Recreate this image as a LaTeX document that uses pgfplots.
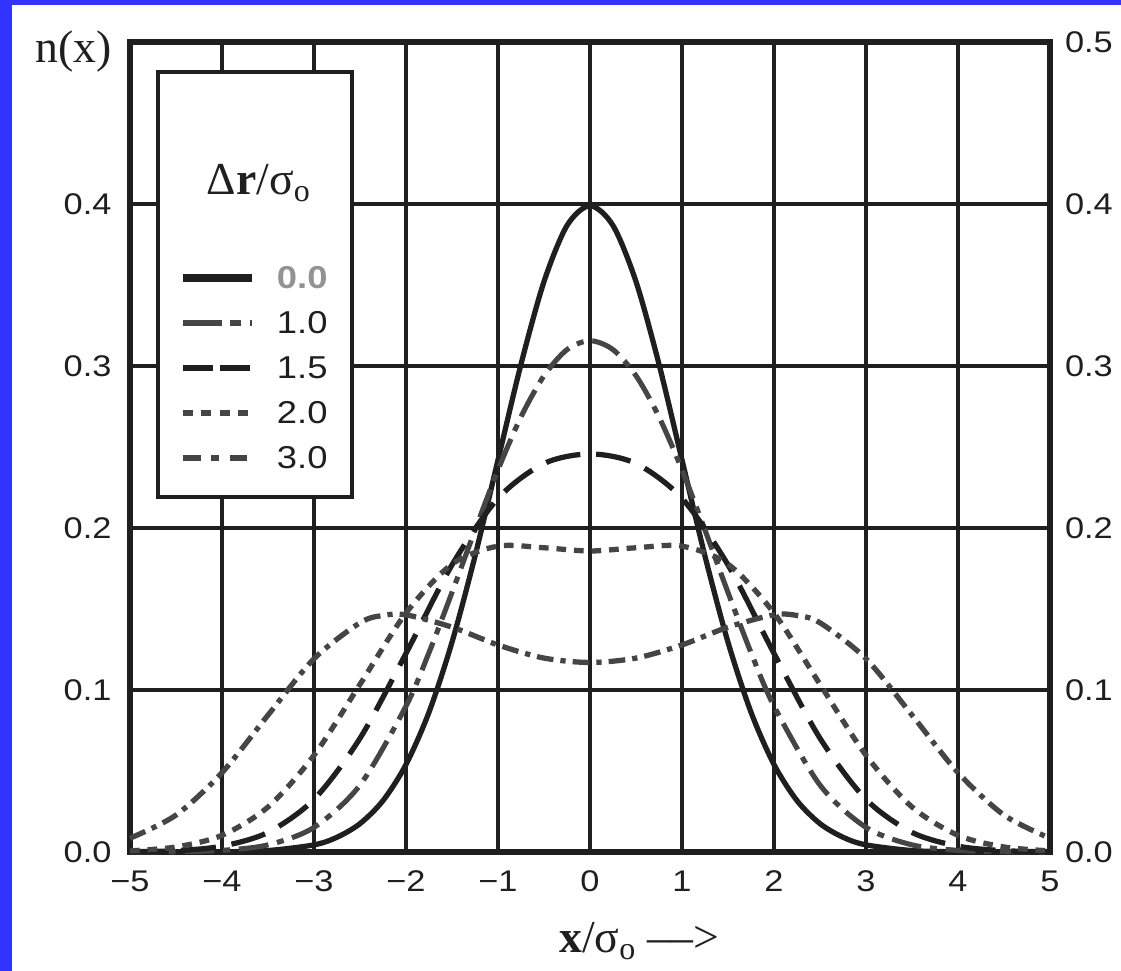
\documentclass[border=0pt]{standalone}
\usepackage{fontspec}
\setmainfont{Liberation Serif}
\newfontfamily\tickfont[FakeStretch=1.15]{Liberation Sans}
\usepackage{pgfplots}
\pgfplotsset{compat=1.18}

\definecolor{slideblue}{RGB}{51,51,255}
\definecolor{ink}{gray}{0.12}
\definecolor{curve}{gray}{0.27}

\tikzset{
  r00/.style={ink, line width=3pt},
  r10/.style={curve, line width=2.9pt, dash pattern=on 17pt off 5pt on 4pt off 5pt},
  r15/.style={ink, line width=3pt, dash pattern=on 20pt off 9pt},
  r20/.style={curve, line width=3pt, dash pattern=on 5.5pt off 4.5pt},
  r30/.style={curve, line width=3pt, dash pattern=on 9.5pt off 4pt on 3pt off 4pt},
}

\begin{document}
\begin{tikzpicture}
\fill[slideblue] (0,0) rectangle (22.42,19.42);
\fill[white] (0.24,0) rectangle (22.42,19.32);

\begin{axis}[
  at={(2.60cm,2.38cm)}, anchor=south west,
  scale only axis, width=18.4cm, height=16.2cm,
  xmin=-5, xmax=5, ymin=0, ymax=0.5,
  xtick={-5,-4,-3,-2,-1,0,1,2,3,4,5},
  xticklabels={−5,−4,−3,−2,−1,0,1,2,3,4,5},
  ytick={0,0.1,0.2,0.3,0.4,0.5},
  yticklabels={0.0,0.1,0.2,0.3,0.4,{}},
  tick label style={font=\tickfont\fontsize{17}{20}\selectfont, text=ink},
  xticklabel style={yshift=-7pt},
  yticklabel style={xshift=-7pt},
  major tick length=0pt,
  grid=major,
  grid style={line width=1.8pt, ink},
  axis line style={line width=3.4pt, ink},
  clip=false,
]
% dr/sigma = 0.0
\addplot[r00, smooth] coordinates {
  (-5,0) (-4.5,0.00002) (-4,0.0001) (-3.5,0.0009) (-3,0.0044) (-2.75,0.0091)
  (-2.5,0.0175) (-2.25,0.0317) (-2,0.0540) (-1.75,0.0863) (-1.5,0.1295)
  (-1.25,0.1826) (-1,0.2420) (-0.75,0.3011) (-0.5,0.3521) (-0.25,0.3867)
  (0,0.3989) (0.25,0.3867) (0.5,0.3521) (0.75,0.3011) (1,0.2420)
  (1.25,0.1826) (1.5,0.1295) (1.75,0.0863) (2,0.0540) (2.25,0.0317)
  (2.5,0.0175) (2.75,0.0091) (3,0.0044) (3.5,0.0009) (4,0.0001)
  (4.5,0.00002) (5,0)
};
% dr/sigma = 1.0
\addplot[r10, smooth] coordinates {
  (-5,0) (-4.5,0.0002) (-4,0.0010) (-3.5,0.0044) (-3,0.0152) (-2.5,0.0413)
  (-2,0.0901) (-1.75,0.1231) (-1.5,0.1602) (-1.25,0.1987) (-1,0.2359)
  (-0.75,0.2686) (-0.5,0.2940) (-0.25,0.3101) (0,0.3156) (0.25,0.3101)
  (0.5,0.2940) (0.75,0.2686) (1,0.2359) (1.25,0.1987) (1.5,0.1602)
  (1.75,0.1231) (2,0.0901) (2.5,0.0413) (3,0.0152) (3.5,0.0044)
  (4,0.0010) (4.5,0.0002) (5,0)
};
% dr/sigma = 1.5
\addplot[r15, smooth] coordinates {
  (-5,0.0002) (-4.5,0.0008) (-4,0.0036) (-3.5,0.0121) (-3,0.0325) (-2.5,0.0702)
  (-2,0.1226) (-1.5,0.1772) (-1,0.2183) (-0.5,0.2398) (0,0.2457)
  (0.5,0.2398) (1,0.2183) (1.5,0.1772) (2,0.1226) (2.5,0.0702)
  (3,0.0325) (3.5,0.0121) (4,0.0036) (4.5,0.0008) (5,0.0002)
};
% dr/sigma = 2.0
\addplot[r20, smooth] coordinates {
  (-5,0.0007) (-4.5,0.0031) (-4,0.0103) (-3.5,0.0278) (-3,0.0597) (-2.5,0.1035)
  (-2,0.1475) (-1.5,0.1777) (-1,0.1888) (-0.5,0.1878) (0,0.1858)
  (0.5,0.1878) (1,0.1888) (1.5,0.1777) (2,0.1475) (2.5,0.1035)
  (3,0.0597) (3.5,0.0278) (4,0.0103) (4.5,0.0031) (5,0.0007)
};
% dr/sigma = 3.0
\addplot[r30, smooth] coordinates {
  (-5,0.0085) (-4.5,0.0228) (-4,0.0490) (-3.5,0.0845) (-3,0.1193) (-2.5,0.1415)
  (-2.25,0.1460) (-2,0.1464) (-1.5,0.1388) (-1,0.1278) (-0.5,0.1197) (0,0.1170)
  (0.5,0.1197) (1,0.1278) (1.5,0.1388) (2,0.1464) (2.25,0.1460) (2.5,0.1415)
  (3,0.1193) (3.5,0.0845) (4,0.0490) (4.5,0.0228) (5,0.0085)
};

% legend box
\draw[ink, line width=2pt, fill=white]
  (axis cs:-4.696,0.4815) rectangle (axis cs:-2.587,0.2191);
\node[font=\fontsize{26}{30}\selectfont, text=ink] at (axis cs:-3.60,0.413)
  {Δ\textbf{r}/σ\textsubscript{o}};
\draw[ink, line width=4.4pt] (axis cs:-4.424,0.3543) -- (axis cs:-3.674,0.3543);
\draw[curve, line width=3.2pt, dash pattern=on 22pt off 5pt on 6pt off 5pt]
  (axis cs:-4.424,0.3265) -- (axis cs:-3.674,0.3265);
\draw[ink, line width=3.8pt, dash pattern=on 17pt off 4pt]
  (axis cs:-4.424,0.2988) -- (axis cs:-3.674,0.2988);
\draw[curve, line width=3.2pt, dash pattern=on 5.5pt off 5pt]
  (axis cs:-4.424,0.2710) -- (axis cs:-3.674,0.2710);
\draw[curve, line width=3.2pt, dash pattern=on 10pt off 6pt on 4.5pt off 6pt]
  (axis cs:-4.424,0.2432) -- (axis cs:-3.674,0.2432);
\begin{scope}[every node/.style={anchor=west, text=ink,
    font=\tickfont\fontsize{18}{21}\selectfont}]
  \node[text=gray!85!white, font=\tickfont\bfseries\fontsize{18}{21}\selectfont]
    at (axis cs:-3.47,0.3543) {0.0};
  \node at (axis cs:-3.47,0.3265) {1.0};
  \node at (axis cs:-3.47,0.2988) {1.5};
  \node at (axis cs:-3.47,0.2710) {2.0};
  \node at (axis cs:-3.47,0.2432) {3.0};
\end{scope}
\end{axis}

% right-hand scale
\begin{axis}[
  at={(2.60cm,2.38cm)}, anchor=south west,
  scale only axis, width=18.4cm, height=16.2cm,
  xmin=-5, xmax=5, ymin=0, ymax=0.5,
  hide x axis,
  axis y line*=right,
  y axis line style={draw=none},
  ytick={0,0.1,0.2,0.3,0.4,0.5},
  yticklabels={0.0,0.1,0.2,0.3,0.4,0.5},
  tick label style={font=\tickfont\fontsize{17}{20}\selectfont, text=ink},
  yticklabel style={xshift=5pt},
  major tick length=0pt,
]
\end{axis}

\node[anchor=base west, font=\fontsize{26}{30}\selectfont, text=ink]
  at (0.58,18.16) {n(x)};
\node[anchor=base west, font=\fontsize{26}{30}\selectfont, text=ink]
  at (11.06,0.36) {\textbf{x}/σ\textsubscript{o} ––>};

\pgfresetboundingbox
\useasboundingbox (0,0) rectangle (22.42,19.42);
\end{tikzpicture}
\end{document}
